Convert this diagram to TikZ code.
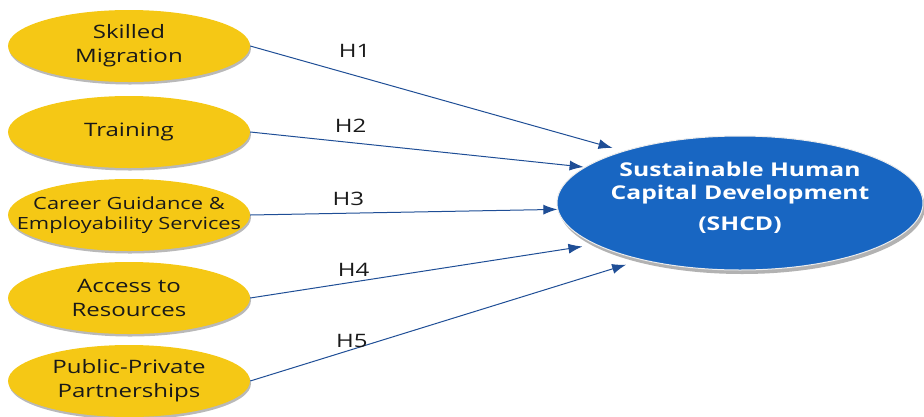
\documentclass[tikz,border=0pt]{standalone}
\usepackage{fontspec}
\setmainfont[FakeStretch=1.3]{Open Sans}
\usetikzlibrary{shapes.geometric,shadows,arrows.meta}
\definecolor{factorfill}{HTML}{F5C815}
\definecolor{shcdfill}{HTML}{1866C2}
\definecolor{linkblue}{HTML}{1F4E96}
\tikzset{
  factor/.style={ellipse, fill=factorfill, minimum width=242pt, minimum height=72pt,
    inner sep=0pt, align=center, text=black!90, font=\fontsize{18.5}{24}\selectfont,
    drop shadow={shadow xshift=1pt, shadow yshift=-2.5pt, fill=gray!55, opacity=1}},
  outcome/.style={ellipse, fill=shcdfill, draw=white!85!gray, line width=1pt,
    minimum width=366pt, minimum height=134pt, inner sep=0pt, align=center,
    text=white, font=\fontsize{19}{23}\selectfont\bfseries,
    drop shadow={shadow xshift=2pt, shadow yshift=-4pt, fill=gray!60, opacity=1}},
  link/.style={draw=linkblue, line width=1pt, -{Latex[length=14pt,width=10pt]}},
  hyp/.style={font=\fontsize{18.5}{22}\selectfont, text=black!90}
}
\begin{document}
\begin{tikzpicture}[x=1pt,y=-1pt]
\useasboundingbox (0,0) rectangle (924,416);
\node[factor] (skill) at (129,46) {Skilled\\Migration};
\node[factor] (train) at (129,132) {Training};
\node[factor, inner xsep=-34pt, font=\fontsize{16.8}{19.5}\selectfont] (career) at (129,215) {Career Guidance \&\\Employability Services};
\node[factor] (access) at (129,298) {Access to\\Resources};
\node[factor] (ppp) at (129,381) {Public-Private\\Partnerships};
\node[outcome, text depth=14pt] (shcd) at (740,203) {Sustainable Human\\Capital Development\\[8pt](SHCD)};

\path[link, shorten >=11pt] (skill.east) -- node[hyp, pos=0.28, yshift=24pt] {H1} (shcd.156);
\path[link, shorten >=1pt] (train.east) -- node[hyp, pos=0.30, yshift=17pt] {H2} (shcd.167);
\path[link] (career.east) -- node[hyp, pos=0.32, yshift=14pt] {H3} (shcd.182);
\path[link, shorten >=13pt] (access.east) -- node[hyp, pos=0.30, yshift=12pt] {H4} (shcd.196);
\path[link, shorten >=16pt] (ppp.east) -- node[hyp, pos=0.26, yshift=9pt] {H5} (shcd.210);
\end{tikzpicture}
\end{document}
